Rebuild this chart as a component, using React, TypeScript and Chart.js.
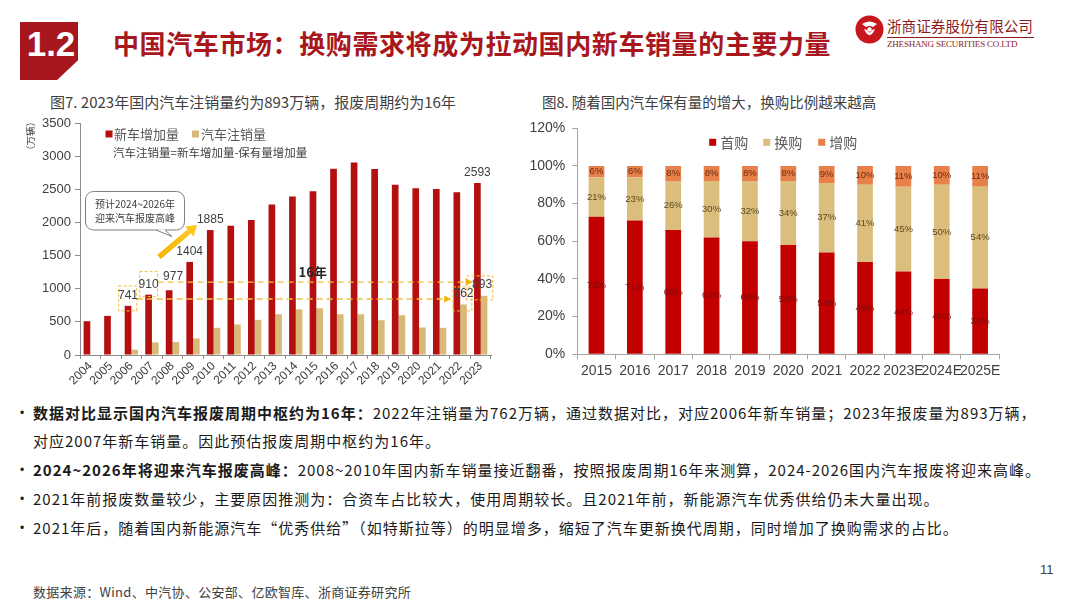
import React, { useEffect, useRef } from 'react';
import { Chart, registerables } from 'chart.js';

Chart.register(...registerables);

const FONT = '"Noto Sans CJK SC", "Liberation Sans", sans-serif';
const NUM_FONT = '"Liberation Sans", Arial, sans-serif';

// ---- Figure 7 data ----
const years7 = ['2004', '2005', '2006', '2007', '2008', '2009', '2010', '2011', '2012', '2013', '2014', '2015', '2016', '2017', '2018', '2019', '2020', '2021', '2022', '2023'];
const newCarSales = [510, 590, 741, 910, 977, 1404, 1885, 1950, 2035, 2270, 2390, 2470, 2810, 2905, 2805, 2570, 2515, 2505, 2455, 2593];
const scrappedCars = [0, 0, 80, 190, 195, 250, 410, 460, 530, 615, 690, 705, 615, 615, 525, 600, 415, 410, 762, 893];
const redLabelIdx = [2, 3, 4, 5, 6, 19];
const tanLabelIdx = [18, 19];
const leftTickStep = 500;
const leftMax = 3500;

// ---- Figure 8 data ----
const years8 = ['2015', '2016', '2017', '2018', '2019', '2020', '2021', '2022', '2023E', '2024E', '2025E'];
const firstPurchase = [73, 71, 66, 62, 60, 58, 54, 49, 44, 40, 35];
const replacementPurchase = [21, 23, 26, 30, 32, 34, 37, 41, 45, 50, 54];
const additionalPurchase = [6, 6, 8, 8, 8, 8, 9, 10, 11, 10, 11];
const seriesNames8 = ['首购', '换购', '增购'];
const rightTickStep = 20;
const rightMax = 120;

const L_RED = '#B3100F';
const L_TAN = '#D9B978';
const R_RED = '#C20000';
const R_TAN = '#DBBE7E';
const R_ORANGE = '#E8804A';
const GOLD = '#F2BF3E';

const leftDecor = {
  id: 'leftDecor',
  afterDraw(chart: any) {
    const { ctx, scales } = chart;
    const xs = scales.x;
    const ys = scales.y;
    const cx = (i: number) => xs.getPixelForValue(i);
    const vy = (v: number) => ys.getPixelForValue(v);
    ctx.save();

    // y axis title
    ctx.save();
    ctx.translate(30, 26);
    ctx.rotate(-Math.PI / 2);
    ctx.font = `9.5px ${FONT}`;
    ctx.fillStyle = '#404040';
    ctx.textAlign = 'center';
    ctx.textBaseline = 'middle';
    ctx.fillText('（万辆）', 0, 0);
    ctx.restore();

    // legend
    const ds = chart.data.datasets;
    ctx.font = `13px ${FONT}`;
    ctx.textBaseline = 'middle';
    ctx.textAlign = 'left';
    ctx.fillStyle = ds[0].backgroundColor;
    ctx.fillRect(105.5, 20.5, 7, 7);
    ctx.fillStyle = '#595959';
    ctx.fillText(ds[0].label, 114, 24);
    ctx.fillStyle = ds[1].backgroundColor;
    ctx.fillRect(192, 20.5, 7, 7);
    ctx.fillStyle = '#595959';
    ctx.fillText(ds[1].label, 201, 24);
    ctx.font = `11.5px ${FONT}`;
    ctx.fillStyle = '#404040';
    ctx.fillText('汽车注销量=新车增加量-保有量增加量', 113, 42.5);

    // dashed boxes
    ctx.setLineDash([3, 2]);
    ctx.strokeStyle = GOLD;
    ctx.lineWidth = 1;
    const box = (i: number, dl: number, dr: number, vTop: number, vBot: number) => {
      ctx.strokeRect(cx(i) + dl, vy(vTop), dr - dl, vy(vBot) - vy(vTop));
    };
    box(2, -12.7, 5.3, 1042, 665);
    box(3, -12.3, 5.7, 1258, 880);
    box(18, -7.3, 11.7, 1027, 665);
    box(19, -14, 12, 1193, 831);

    // dashed horizontal lines with arrows
    ctx.lineWidth = 1.4;
    const hline = (x1: number, x2: number, y: number) => {
      ctx.setLineDash([6, 4]);
      ctx.beginPath();
      ctx.moveTo(x1, y);
      ctx.lineTo(x2 - 5, y);
      ctx.stroke();
      ctx.setLineDash([]);
      ctx.fillStyle = '#F0B400';
      ctx.beginPath();
      ctx.moveTo(x2, y);
      ctx.lineTo(x2 - 7, y - 3.5);
      ctx.lineTo(x2 - 7, y + 3.5);
      ctx.closePath();
      ctx.fill();
    };
    hline(cx(2) + 5.3, cx(18) - 9, vy(845));
    hline(cx(3) + 5.7, cx(19) - 8, vy(1100));
    ctx.setLineDash([]);

    // "16年"
    ctx.font = `bold 13px ${FONT}`;
    ctx.fillStyle = '#262626';
    ctx.textAlign = 'center';
    ctx.fillText('16年', cx(11) - 3.6, vy(1254));

    // callout
    ctx.strokeStyle = '#7F7F7F';
    ctx.lineWidth = 1;
    ctx.fillStyle = '#ffffff';
    ctx.beginPath();
    (ctx as any).roundRect(85.5, 81.5, 99, 38.5, 8);
    ctx.fill();
    ctx.stroke();
    ctx.beginPath();
    ctx.moveTo(156, 119.5);
    ctx.lineTo(172, 126.5);
    ctx.lineTo(165, 119.5);
    ctx.closePath();
    ctx.fill();
    ctx.beginPath();
    ctx.moveTo(156, 120);
    ctx.lineTo(172, 126.5);
    ctx.lineTo(165, 120);
    ctx.stroke();
    ctx.fillStyle = '#404040';
    ctx.font = `10px ${FONT}`;
    ctx.textAlign = 'left';
    ctx.fillText('预计2024~2026年', 95, 94.5);
    ctx.fillText('迎来汽车报废高峰', 95, 108);

    // yellow arrow
    const x1 = 159, y1 = 147, x2 = 197, y2 = 115;
    const ang = Math.atan2(y2 - y1, x2 - x1);
    const head = 10;
    const hx = x2 - head * Math.cos(ang);
    const hy = y2 - head * Math.sin(ang);
    const grad = ctx.createLinearGradient(x1, y1, x2, y2);
    grad.addColorStop(0, '#F5B400');
    grad.addColorStop(1, '#FFCC33');
    ctx.strokeStyle = grad;
    ctx.lineWidth = 5.5;
    ctx.lineCap = 'butt';
    ctx.beginPath();
    ctx.moveTo(x1, y1);
    ctx.lineTo(hx, hy);
    ctx.stroke();
    ctx.fillStyle = '#FFC61A';
    ctx.beginPath();
    ctx.moveTo(x2, y2);
    ctx.lineTo(hx + 6.5 * Math.cos(ang + Math.PI / 2), hy + 6.5 * Math.sin(ang + Math.PI / 2));
    ctx.lineTo(hx - 6.5 * Math.cos(ang + Math.PI / 2), hy - 6.5 * Math.sin(ang + Math.PI / 2));
    ctx.closePath();
    ctx.fill();

    // data labels
    ctx.font = `12px ${NUM_FONT}`;
    ctx.fillStyle = '#404040';
    ctx.textAlign = 'center';
    ctx.textBaseline = 'middle';
    const redEls = chart.getDatasetMeta(0).data;
    const tanEls = chart.getDatasetMeta(1).data;
    redLabelIdx.forEach((i) => {
      const el = redEls[i];
      const dx = i === 4 ? 4 : 0;
      const dy = i === 4 ? -14 : -10;
      ctx.fillText(String(newCarSales[i]), el.x + dx, el.y + dy);
    });
    tanLabelIdx.forEach((i) => {
      const el = tanEls[i];
      const dx = i === 19 ? -2 : 0;
      ctx.fillText(String(scrappedCars[i]), el.x + dx, el.y - 11);
    });
    ctx.restore();
  },
};

const rightDecor = {
  id: 'rightDecor',
  afterDatasetsDraw(chart: any) {
    const { ctx } = chart;
    ctx.save();
    const labelColors = ['#7A0A0A', '#5C4A1E', '#6E2A0C'];
    ctx.font = `9.5px ${NUM_FONT}`;
    ctx.textAlign = 'center';
    ctx.textBaseline = 'middle';
    chart.data.datasets.forEach((ds: any, di: number) => {
      const meta = chart.getDatasetMeta(di);
      ctx.fillStyle = labelColors[di];
      meta.data.forEach((el: any, i: number) => {
        const yc = (el.y + el.base) / 2;
        ctx.fillText(ds.data[i] + '%', el.x, yc);
      });
    });
    // legend
    const pos = [192.7, 246.7, 301.7];
    ctx.font = `14px ${FONT}`;
    ctx.textAlign = 'left';
    chart.data.datasets.forEach((ds: any, di: number) => {
      ctx.fillStyle = ds.backgroundColor;
      ctx.fillRect(pos[di] - 3.5, 28.8, 7, 7);
      ctx.fillStyle = '#595959';
      ctx.fillText(ds.label, pos[di] + 7.5, 32.3);
    });
    ctx.restore();
  },
};

const bulletLine: React.CSSProperties = {
  position: 'absolute',
  left: 33,
  whiteSpace: 'nowrap',
  fontSize: 15,
  lineHeight: '20px',
  letterSpacing: '1px',
  color: '#1a1a1a',
  fontFamily: FONT,
};

const dot = (top: number) => (
  <div style={{ position: 'absolute', left: 20, top: top - 10, lineHeight: '20px', fontSize: 12, color: '#1a1a1a', fontFamily: NUM_FONT }}>•</div>
);

export default function App() {
  const leftRef = useRef<HTMLCanvasElement>(null);
  const rightRef = useRef<HTMLCanvasElement>(null);

  useEffect(() => {
    const c1 = new Chart(leftRef.current as HTMLCanvasElement, {
      type: 'bar',
      data: {
        labels: years7,
        datasets: [
          { label: '新车增加量', data: newCarSales, backgroundColor: L_RED, categoryPercentage: 0.65, barPercentage: 1.0 },
          { label: '汽车注销量', data: scrappedCars, backgroundColor: L_TAN, categoryPercentage: 0.65, barPercentage: 1.0 },
        ],
      },
      options: {
        animation: false,
        responsive: false,
        layout: { padding: { left: 0, right: 29, top: 13, bottom: 0 } },
        plugins: { legend: { display: false }, tooltip: { enabled: false } },
        scales: {
          x: {
            offset: true,
            grid: { display: true, drawOnChartArea: false, drawTicks: true, tickLength: 4, color: '#8C8C8C' },
            border: { color: '#8C8C8C' },
            ticks: { autoSkip: false, minRotation: 45, maxRotation: 45, font: { size: 12, family: NUM_FONT }, color: '#404040', padding: 0 },
            afterFit: (s: any) => { s.height = 45; },
          },
          y: {
            min: 0,
            max: leftMax,
            ticks: { stepSize: leftTickStep, font: { size: 13, family: NUM_FONT }, color: '#404040', padding: 4, callback: (v: any) => String(v) },
            grid: { display: true, drawOnChartArea: false, drawTicks: true, tickLength: 5, color: '#8C8C8C' },
            border: { color: '#8C8C8C' },
            afterFit: (s: any) => { s.width = 80; },
          },
        },
      },
      plugins: [leftDecor],
    } as any);

    const c2 = new Chart(rightRef.current as HTMLCanvasElement, {
      type: 'bar',
      data: {
        labels: years8,
        datasets: [
          { label: seriesNames8[0], data: firstPurchase, backgroundColor: R_RED },
          { label: seriesNames8[1], data: replacementPurchase, backgroundColor: R_TAN },
          { label: seriesNames8[2], data: additionalPurchase, backgroundColor: R_ORANGE },
        ],
      },
      options: {
        animation: false,
        responsive: false,
        datasets: { bar: { categoryPercentage: 1, barPercentage: 0.41 } },
        layout: { padding: { left: 0, right: 60.7, top: 18.3, bottom: 0 } },
        plugins: { legend: { display: false }, tooltip: { enabled: false } },
        scales: {
          x: {
            stacked: true,
            offset: true,
            grid: { display: true, drawOnChartArea: false, drawTicks: true, tickLength: 5, color: '#A6A6A6' },
            border: { color: '#A6A6A6' },
            ticks: { autoSkip: false, minRotation: 0, maxRotation: 0, font: { size: 14, family: NUM_FONT }, color: '#404040', padding: 3 },
            afterFit: (s: any) => { s.height = 35.7; },
          },
          y: {
            stacked: true,
            min: 0,
            max: rightMax,
            ticks: { stepSize: rightTickStep, font: { size: 14, family: NUM_FONT }, color: '#404040', padding: 7, callback: (v: any) => v + '%' },
            grid: { display: true, drawOnChartArea: false, drawTicks: true, tickLength: 5, color: '#A6A6A6' },
            border: { color: '#A6A6A6' },
            afterFit: (s: any) => { s.width = 57.3; },
          },
        },
      },
      plugins: [rightDecor],
    } as any);

    return () => {
      c1.destroy();
      c2.destroy();
    };
  }, []);

  return (
    <div style={{ position: 'fixed', left: 0, top: 0, width: 1080, height: 608, background: '#ffffff', overflow: 'hidden', fontFamily: FONT }}>
      {/* header block */}
      <div style={{ position: 'absolute', left: 20, top: 22, width: 58, height: 58, background: '#A6161C', clipPath: 'polygon(0 0, 100% 0, 100% 66%, 64% 100%, 0 100%)' }} />
      <div style={{ position: 'absolute', left: 20, top: 26, width: 62, textAlign: 'center', color: '#fff', fontFamily: NUM_FONT, fontWeight: 'bold', fontSize: 35, lineHeight: '35px' }}>1.2</div>
      <div style={{ position: 'absolute', left: 113, top: 29, whiteSpace: 'nowrap', color: '#A8171C', fontWeight: 'bold', fontSize: 26, lineHeight: '27px', letterSpacing: '0.6px' }}>
        中国汽车市场：换购需求将成为拉动国内新车销量的主要力量
      </div>

      {/* logo */}
      <svg style={{ position: 'absolute', left: 855, top: 15 }} width={29} height={29} viewBox="0 0 29 29">
        <circle cx={14.5} cy={14.5} r={14} fill="#C8161D" />
        <path d="M7 9 Q14.5 4 22 9 L18 12 Q14.5 10 11 12 Z" fill="#ffffff" />
        <path d="M9 14 Q14.5 26 20 14 L17 15 Q14.5 20 12 15 Z" fill="#ffffff" />
        <circle cx={14.5} cy={14.5} r={2.2} fill="#ffffff" />
      </svg>
      <div style={{ position: 'absolute', left: 887, top: 17, whiteSpace: 'nowrap', color: '#8E1B1E', fontSize: 14.6, lineHeight: '18px' }}>浙商证券股份有限公司</div>
      <div style={{ position: 'absolute', left: 887, top: 37, width: 147, height: 1, background: '#8E1B1E' }} />
      <div style={{ position: 'absolute', left: 887, top: 38.5, whiteSpace: 'nowrap', color: '#8E1B1E', fontSize: 9, lineHeight: '10px', fontFamily: '"Liberation Serif", serif', letterSpacing: '-0.2px' }}>ZHESHANG SECURITIES CO.LTD</div>

      {/* chart titles */}
      <div style={{ position: 'absolute', left: 50, top: 92, whiteSpace: 'nowrap', color: '#404040', fontSize: 15, lineHeight: '20px' }}>图7. 2023年国内汽车注销量约为893万辆，报废周期约为16年</div>
      <div style={{ position: 'absolute', left: 542, top: 92, whiteSpace: 'nowrap', color: '#404040', fontSize: 14.5, lineHeight: '20px' }}>图8. 随着国内汽车保有量的增大，换购比例越来越高</div>

      <canvas ref={leftRef} width={520} height={290} style={{ position: 'absolute', left: 0, top: 110, width: 520, height: 290 }} />
      <canvas ref={rightRef} width={540} height={280} style={{ position: 'absolute', left: 520, top: 110, width: 540, height: 280 }} />

      {/* bullets */}
      {dot(413)}
      <div style={{ ...bulletLine, top: 403 }}>
        <b>数据对比显示国内汽车报废周期中枢约为16年：</b>2022年注销量为762万辆，通过数据对比，对应2006年新车销量；2023年报废量为893万辆，
      </div>
      <div style={{ ...bulletLine, top: 431 }}>对应2007年新车销量。因此预估报废周期中枢约为16年。</div>
      {dot(470)}
      <div style={{ ...bulletLine, top: 460 }}>
        <b>2024~2026年将迎来汽车报废高峰：</b>2008~2010年国内新车销量接近翻番，按照报废周期16年来测算，2024-2026国内汽车报废将迎来高峰。
      </div>
      {dot(499)}
      <div style={{ ...bulletLine, top: 489 }}>2021年前报废数量较少，主要原因推测为：合资车占比较大，使用周期较长。且2021年前，新能源汽车优秀供给仍未大量出现。</div>
      {dot(528)}
      <div style={{ ...bulletLine, top: 518 }}>2021年后，随着国内新能源汽车“优秀供给”（如特斯拉等）的明显增多，缩短了汽车更新换代周期，同时增加了换购需求的占比。</div>

      <div style={{ position: 'absolute', left: 1040, top: 562, fontSize: 13, lineHeight: '16px', color: '#404040', fontFamily: NUM_FONT }}>11</div>
      <div style={{ position: 'absolute', left: 33, top: 584, whiteSpace: 'nowrap', fontSize: 13, lineHeight: '16px', color: '#404040', letterSpacing: '0.3px' }}>数据来源：Wind、中汽协、公安部、亿欧智库、浙商证券研究所</div>
    </div>
  );
}
